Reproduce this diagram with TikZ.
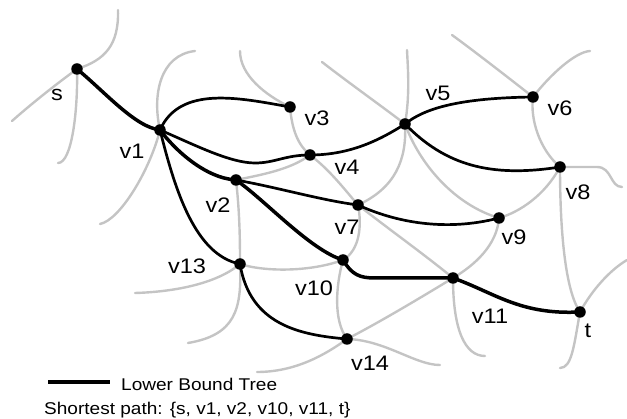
\documentclass[tikz,border=0pt]{standalone}
\usepackage{fontspec}
\setmainfont{Liberation Sans}[FakeStretch=1.12]
\definecolor{edgegray}{RGB}{196,196,196}
\begin{document}
\begin{tikzpicture}[x=1pt,y=-1pt,
  dot/.style={circle,fill=black,inner sep=0pt,minimum size=11.5pt},
  lbl/.style={font=\fontsize{21}{24}\selectfont,inner sep=0pt},
  legendtxt/.style={font=\fontsize{17}{20}\selectfont,inner sep=0pt,anchor=west},
  gedge/.style={draw=edgegray,line width=2.4pt,line cap=round},
  tree/.style={draw=black,line width=2.7pt},
  spath/.style={draw=black,line width=3.5pt}]
\useasboundingbox (0,0) rectangle (627,419);
% vertices
\coordinate (s) at (77,69);
\coordinate (v1) at (160,130);
\coordinate (v2) at (236,180);
\coordinate (v3) at (290,107);
\coordinate (v4) at (310,155);
\coordinate (v5) at (405,124);
\coordinate (v6) at (533,97);
\coordinate (v7) at (358,205);
\coordinate (v8) at (560,167);
\coordinate (v9) at (499,218);
\coordinate (v10) at (343,260);
\coordinate (v11) at (453,278);
\coordinate (v13) at (240,264);
\coordinate (v14) at (347,339);
\coordinate (t) at (580,312);
% free ends of gray edges
\coordinate (a1) at (118,10);
\coordinate (a2) at (12,121);
\coordinate (a3) at (58,163);
\coordinate (a4) at (195,51);
\coordinate (a5) at (100,224);
\coordinate (a6) at (240,51);
\coordinate (a12) at (135,293);
\coordinate (a13) at (188,343);
\coordinate (a17) at (407,50);
\coordinate (a18) at (322,62);
\coordinate (a20) at (452,35);
\coordinate (a21) at (590,51);
\coordinate (a23) at (622,187);
\coordinate (a29) at (485,356);
\coordinate (a30) at (440,365);
\coordinate (a31) at (257,372);
\coordinate (a32) at (560,368);
\coordinate (a33) at (627,260);
% gray edges
\draw[gedge] (s) .. controls (105,60) and (119,45) .. (a1);
\draw[gedge] (s) .. controls (55,85) and (30,105) .. (a2);
\draw[gedge] (s) .. controls (78,110) and (72,163) .. (a3);
\draw[gedge] (v1) .. controls (152,95) and (160,55) .. (a4);
\draw[gedge] (v1) .. controls (150,170) and (120,220) .. (a5);
\draw[gedge] (v3) .. controls (265,95) and (240,75) .. (a6);
\draw[gedge] (v3) .. controls (292,130) and (298,145) .. (v4);
\draw[gedge] (v4) .. controls (290,170) and (260,175) .. (v2);
\draw[gedge] (v4) .. controls (330,170) and (345,190) .. (v7);
\draw[gedge] (v2) .. controls (240,215) and (240,245) .. (v13);
\draw[gedge] (v13) .. controls (265,272) and (310,272) .. (v10);
\draw[gedge] (v13) .. controls (215,285) and (170,292) .. (a12);
\draw[gedge] (v13) .. controls (242,310) and (235,335) .. (a13);
\draw[gedge] (v10) .. controls (336,285) and (333,320) .. (v14);
\draw[gedge] (v10) .. controls (360,250) and (362,225) .. (v7);
\draw[gedge] (v7) .. controls (395,188) and (407,160) .. (v5);
\draw[gedge] (v5) .. controls (410,95) and (408,70) .. (a17);
\draw[gedge] (v5) .. controls (380,105) and (345,80) .. (a18);
\draw[gedge] (v5) .. controls (420,165) and (455,205) .. (v9);
\draw[gedge] (v6) .. controls (505,75) and (470,48) .. (a20);
\draw[gedge] (v6) .. controls (550,75) and (575,52) .. (a21);
\draw[gedge] (v6) .. controls (530,120) and (540,150) .. (v8);
\draw[gedge] (v8) -- (597,167) .. controls (612,167) and (610,187) .. (a23);
\draw[gedge] (v8) .. controls (560,230) and (565,290) .. (t);
\draw[gedge] (v8) .. controls (545,195) and (520,212) .. (v9);
\draw[gedge] (v9) .. controls (497,245) and (475,265) .. (v11);
\draw[gedge] (v7) .. controls (390,230) and (425,255) .. (v11);
\draw[gedge] (v11) .. controls (420,298) and (380,322) .. (v14);
\draw[gedge] (v11) .. controls (453,330) and (465,356) .. (a29);
\draw[gedge] (v14) .. controls (385,340) and (415,365) .. (a30);
\draw[gedge] (v14) .. controls (325,355) and (295,372) .. (a31);
\draw[gedge] (t) .. controls (574,345) and (572,368) .. (a32);
\draw[gedge] (t) .. controls (592,290) and (610,270) .. (a33);
% lower bound tree
\draw[spath] (s) .. controls (105,92) and (135,127) .. (v1);
\draw[tree] (v1) .. controls (180,85) and (240,98) .. (v3);
\draw[tree] (v1) .. controls (195,145) and (230,163) .. (255,163) .. controls (275,163) and (285,155) .. (v4);
\draw[spath] (v1) .. controls (175,150) and (205,178) .. (v2);
\draw[tree] (v1) .. controls (175,190) and (195,255) .. (v13);
\draw[tree] (v2) .. controls (280,188) and (320,200) .. (v7);
\draw[spath] (v2) .. controls (265,200) and (310,250) .. (v10);
\draw[tree] (v4) .. controls (350,155) and (380,140) .. (v5);
\draw[tree] (v5) .. controls (425,108) and (460,98) .. (v6);
\draw[tree] (v5) .. controls (445,165) and (490,178) .. (v8);
\draw[tree] (v7) .. controls (395,222) and (445,232) .. (v9);
\draw[spath] (v10) .. controls (352,275) and (360,278) .. (375,278) -- (v11);
\draw[spath] (v11) .. controls (495,293) and (520,315) .. (t);
\draw[tree] (v13) .. controls (250,325) and (300,335) .. (v14);
% dots
\foreach \n in {s,v1,v2,v3,v4,v5,v6,v7,v8,v9,v10,v11,v13,v14,t}
  \node[dot] (d\n) at (\n) {};
% labels
\node[lbl] (ls) at (57,95) {s};
\node[lbl] (l1) at (132,151) {v1};
\node[lbl] (l3) at (317,118) {v3};
\node[lbl] (l4) at (347,167) {v4};
\node[lbl] (l2) at (218,205) {v2};
\node[lbl] (l5) at (438,93) {v5};
\node[lbl] (l6) at (560,108) {v6};
\node[lbl] (l8) at (578,192) {v8};
\node[lbl] (l7) at (347,227) {v7};
\node[lbl] (l9) at (514,237) {v9};
\node[lbl] (l13) at (187,266) {v13};
\node[lbl] (l10) at (314,288) {v10};
\node[lbl] (l11) at (490,316) {v11};
\node[lbl] (lt) at (588,331) {t};
\node[lbl] (l14) at (370,363) {v14};
% legend
\coordinate (k1) at (48,382);
\coordinate (k2) at (110,382);
\draw[line width=4pt] (k1) -- (k2);
\node[legendtxt] (ktxt) at (121,384) {Lower Bound Tree};
\node[legendtxt] (sp) at (44,410) {Shortest path: \{s, v1, v2, v10, v11, t\}};
\end{tikzpicture}
\end{document}
